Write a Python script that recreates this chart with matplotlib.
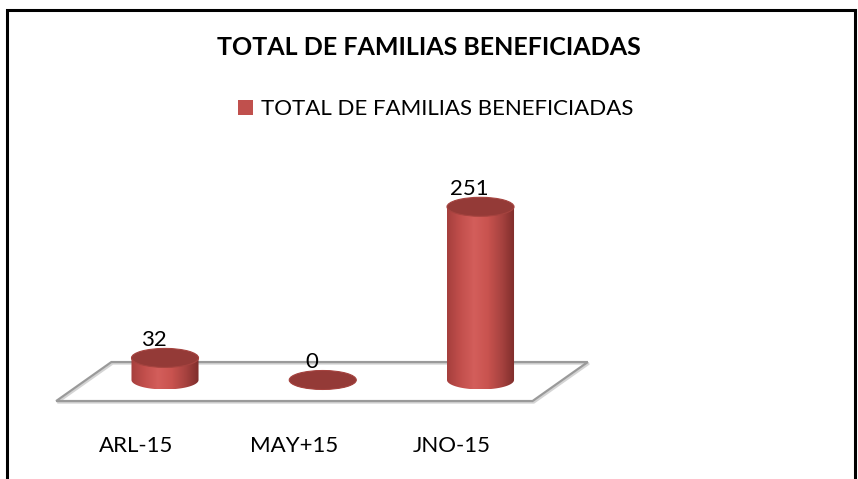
import matplotlib.pyplot as plt
import numpy as np
from matplotlib.patches import Polygon, Ellipse, Rectangle, Patch
from matplotlib.colors import LinearSegmentedColormap

# data
categories = ['ARL-15', 'MAY+15', 'JNO-15']
values = [32, 0, 251]
series_name = 'TOTAL DE FAMILIAS BENEFICIADAS'
chart_title = 'TOTAL DE FAMILIAS BENEFICIADAS'

plt.rcParams['font.family'] = ['Lato', 'DejaVu Sans']

fig = plt.figure(figsize=(8.58, 4.79), dpi=100)
ax = fig.add_axes([0, 0, 1, 1])
ax.set_axis_off()

# 3d look: cylinder size and floor depth (in data units)
bar_w = 0.425
ell_h = 27.5
floor_back = 26.0
floor_front = -30.5
depth_dx = -0.35
floor_left = -0.34
floor_right = len(categories) - 1 + 0.68

body_cmap = LinearSegmentedColormap.from_list(
    'cyl', ['#a53f3d', '#c24f4c', '#d35e5b', '#c9534f', '#a84340', '#7e2d2b'])
grad = np.linspace(0, 1, 256).reshape(1, -1)

# floor
fx = [floor_left, floor_right, floor_right + depth_dx, floor_left + depth_dx]
fy = [floor_back, floor_back, floor_front, floor_front]
ax.add_patch(Polygon(list(zip(np.array(fx) + 0.008, np.array(fy) - 2.2)), closed=True,
                     fill=False, edgecolor='#d4d4d4', lw=1.6, zorder=1))
ax.add_patch(Polygon(list(zip(fx, fy)), closed=True, fill=False,
                     edgecolor='#9a9a9a', lw=1.6, zorder=2))

x = np.arange(len(categories))
theta = np.linspace(np.pi, 2 * np.pi, 80)
for xc, v in zip(x, values):
    # body: side of cylinder with rounded bottom
    bx = np.concatenate([[xc - bar_w / 2], xc + bar_w / 2 * np.cos(theta), [xc + bar_w / 2]])
    by = np.concatenate([[v], ell_h / 2 * np.sin(theta), [v]])
    body = Polygon(list(zip(bx, by)), closed=True, facecolor='none', edgecolor='none', zorder=3)
    ax.add_patch(body)
    im = ax.imshow(grad, cmap=body_cmap, aspect='auto', zorder=3,
                   extent=[xc - bar_w / 2, xc + bar_w / 2, -ell_h / 2, v + 1])
    im.set_clip_path(body)
    # top
    ax.add_patch(Ellipse((xc, v), bar_w, ell_h, facecolor='#943a37',
                         edgecolor='#a5433f', lw=0.8, zorder=4))
    # value label
    ax.text(xc - 0.07, v + ell_h / 2 + 3.5, str(v), ha='center', va='baseline',
            fontsize=16, color='black', zorder=5)

# category labels
for xc, lab in zip(x, categories):
    ax.text(xc - 0.18, -104, lab, ha='center', va='baseline', fontsize=16, color='black')

ax.set_xlim(-1.046, 4.393)
ax.set_ylim(-143.5, 550.7)

# title and legend
fig.text(0.5, 1 - 47.5 / 479, chart_title, ha='center', va='center',
         fontsize=18, fontweight='bold')
fig.legend(handles=[Patch(facecolor='#c0504d', edgecolor='none', label=series_name)],
           loc='center', bbox_to_anchor=(436 / 858, 1 - 109 / 479), frameon=False,
           fontsize=16, handlelength=0.65, handleheight=0.65, handletextpad=0.4)

# chart border
fig.patches.append(Rectangle((6.5 / 858, -0.05), 848 / 858, 1.05 - 10 / 479,
                             transform=fig.transFigure, fill=False,
                             edgecolor='black', lw=2.2))

fig.savefig('out.png', dpi=100)
